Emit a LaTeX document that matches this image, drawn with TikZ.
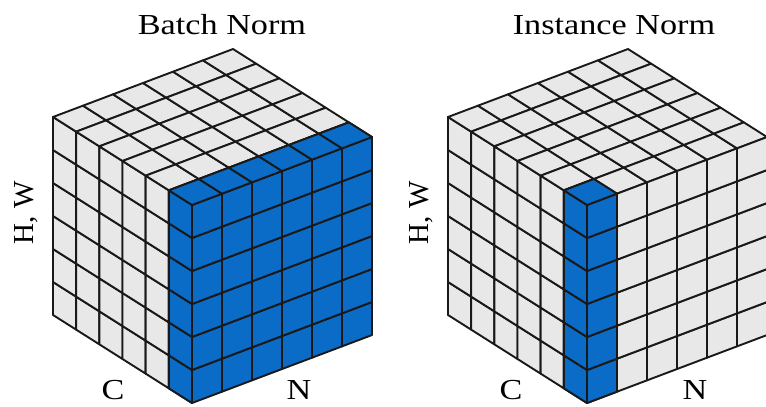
\documentclass[tikz,border=0pt]{standalone}
\usepackage{fontspec}
\setmainfont{Liberation Serif}[FakeStretch=1.18]
\newfontfamily\uprightserif{Liberation Serif}
\usetikzlibrary{positioning}
\definecolor{cellblue}{RGB}{10,108,198}
\definecolor{cellgray}{RGB}{232,232,232}

\begin{document}
\begin{tikzpicture}[x=1pt,y=1pt,
  every node/.style={font=\fontsize{29}{32}\selectfont,inner sep=0pt},
  cell/.style={draw=black!90,line width=1.9pt,line join=round,fill=cellgray},
  hot/.style={cell,fill=cellblue},
  cubeaxes/.style={x={(23.17pt,-14.67pt)},y={(0pt,33pt)},z={(30pt,11.33pt)}}]
  \useasboundingbox (0,0) rectangle (766,407);

  % Batch Norm cube
  \begin{scope}[shift={(53pt,92pt)},cubeaxes]
    \foreach \c in {0,...,5} \foreach \h in {0,...,5}
      \draw[cell] (\c,\h,0) -- ++(1,0,0) -- ++(0,1,0) -- ++(-1,0,0) -- cycle;
    \foreach \c in {0,...,5} \foreach \n in {0,...,5}
      \draw[cell] (\c,6,\n) -- ++(1,0,0) -- ++(0,0,1) -- ++(-1,0,0) -- cycle;
    \foreach \h in {0,...,5} \foreach \n in {0,...,5}
      \draw[hot] (6,\h,\n) -- ++(0,0,1) -- ++(0,1,0) -- ++(0,0,-1) -- cycle;
    \foreach \h in {0,...,5}
      \draw[hot] (5,\h,0) -- ++(1,0,0) -- ++(0,1,0) -- ++(-1,0,0) -- cycle;
    \foreach \n in {0,...,5}
      \draw[hot] (5,6,\n) -- ++(1,0,0) -- ++(0,0,1) -- ++(-1,0,0) -- cycle;
  \end{scope}
  \node (bntitle) at (222,382) {Batch Norm};
  \node[rotate=90,font=\uprightserif\fontsize{29}{32}\selectfont] (bnhw) at (26,194) {H, W};
  \node (bnc) at (113,17) {C};
  \node (bnn) at (299,17) {N};

  % Instance Norm cube
  \begin{scope}[shift={(448pt,92pt)},cubeaxes]
    \foreach \c in {0,...,5} \foreach \h in {0,...,5}
      \draw[cell] (\c,\h,0) -- ++(1,0,0) -- ++(0,1,0) -- ++(-1,0,0) -- cycle;
    \foreach \c in {0,...,5} \foreach \n in {0,...,5}
      \draw[cell] (\c,6,\n) -- ++(1,0,0) -- ++(0,0,1) -- ++(-1,0,0) -- cycle;
    \foreach \h in {0,...,5} \foreach \n in {0,...,5}
      \draw[cell] (6,\h,\n) -- ++(0,0,1) -- ++(0,1,0) -- ++(0,0,-1) -- cycle;
    \foreach \h in {0,...,5} {
      \draw[hot] (5,\h,0) -- ++(1,0,0) -- ++(0,1,0) -- ++(-1,0,0) -- cycle;
      \draw[hot] (6,\h,0) -- ++(0,0,1) -- ++(0,1,0) -- ++(0,0,-1) -- cycle;
    }
    \draw[hot] (5,6,0) -- ++(1,0,0) -- ++(0,0,1) -- ++(-1,0,0) -- cycle;
  \end{scope}
  \node (intitle) at (614,382) {Instance Norm};
  \node[rotate=90,font=\uprightserif\fontsize{29}{32}\selectfont] (inhw) at (421,194) {H, W};
  \node (inc) at (511,17) {C};
  \node (inn) at (695,17) {N};
\end{tikzpicture}
\end{document}
